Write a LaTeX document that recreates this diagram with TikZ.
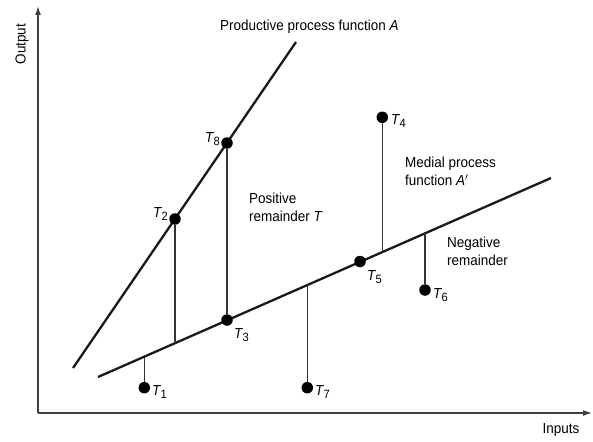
\documentclass[tikz,border=0pt]{standalone}
\usepackage{fontspec}
\setmainfont{Liberation Sans}[FakeStretch=0.93]
\usetikzlibrary{arrows.meta}
\newcommand{\Tl}[1]{{\itshape T}\kern0.3pt\raisebox{-0.45ex}{\fontsize{12}{13}\selectfont #1}}
\begin{document}
\begin{tikzpicture}[x=1pt,y=-1pt,
  lab/.style={font=\fontsize{14.5}{18}\selectfont, inner sep=0pt},
  dot/.style={circle, fill=black, inner sep=0pt, minimum size=11.5pt},
  func/.style={line width=2.3pt, black!90},
  drop/.style={line width=1.3pt, black!80},
  axis/.style={line width=1.2pt, black!75, -{Latex[length=9pt,width=6pt]}}]
\useasboundingbox (0,0) rectangle (593,441);
% axes
\coordinate (O) at (38,413);
\coordinate (Ytop) at (38,6);
\coordinate (Xend) at (592,413);
\draw[axis] (O) -- (Ytop);
\draw[axis] (O) -- (Xend);
\node[lab, rotate=90] (out) at (22,44) {Output};
\node[lab] (inp) at (561,430) {Inputs};
% function lines
\coordinate (Pa) at (73,368);
\coordinate (Pb) at (296,42);
\coordinate (Ma) at (98,377);
\coordinate (Mb) at (551,178);
\draw[func] (Pa) -- (Pb);
\draw[func] (Ma) -- (Mb);
% feet on medial line
\coordinate (F1) at (144.3,356.7);
\coordinate (F2) at (175,343);
\coordinate (F4) at (382.3,251.8);
\coordinate (F6) at (425,232.8);
\coordinate (F7) at (307.3,284.7);
% dots
\node[dot] (T1) at (144.3,387.7) {};
\node[dot] (T2) at (175,219) {};
\node[dot] (T3) at (227,320) {};
\node[dot] (T4) at (382.3,117.3) {};
\node[dot] (T5) at (360,261.5) {};
\node[dot] (T6) at (425,290) {};
\node[dot] (T7) at (307.3,387.7) {};
\node[dot] (T8) at (227,143) {};
% drops
\draw[drop] (T1) -- (F1);
\draw[drop] (T2) -- (F2);
\draw[drop] (T8) -- (T3);
\draw[drop] (T4) -- (F4);
\draw[drop] (T6) -- (F6);
\draw[drop] (T7) -- (F7);
% dot labels
\node[lab, anchor=west] (l1) at (152,392) {\Tl{1}};
\node[lab, anchor=east] (l2) at (168,214) {\Tl{2}};
\node[lab, anchor=west] (l3) at (234,335) {\Tl{3}};
\node[lab, anchor=west] (l4) at (391,121) {\Tl{4}};
\node[lab, anchor=west] (l5) at (367,277) {\Tl{5}};
\node[lab, anchor=west] (l6) at (433,295) {\Tl{6}};
\node[lab, anchor=west] (l7) at (315,392) {\Tl{7}};
\node[lab, anchor=east] (l8) at (220,139) {\Tl{8}};
% text labels
\node[lab, anchor=west] (prod) at (220,27) {Productive process function \textit{A}};
\node[lab, anchor=north west, align=left] (pos) at (249,193) {Positive\\remainder \textit{T}};
\node[lab, anchor=north west, align=left] (med) at (405,157) {Medial process\\function \textit{A}$'$};
\node[lab, anchor=north west, align=left] (neg) at (447,237) {Negative\\remainder};
\end{tikzpicture}
\end{document}
